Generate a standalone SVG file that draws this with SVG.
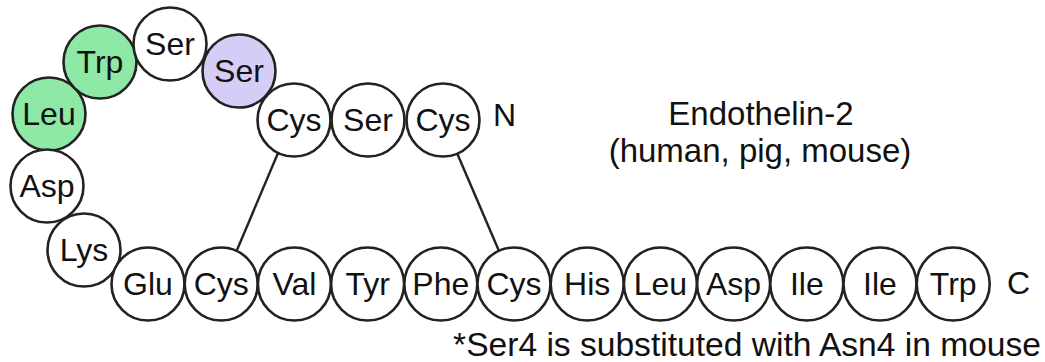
<svg xmlns="http://www.w3.org/2000/svg" width="1045" height="362" viewBox="0 0 1045 362">
<style>
.r circle{fill:#fff;stroke:#222;stroke-width:2.6}
.r.g circle{fill:#8ee8a6}
.r.p circle{fill:#d6cdf7}
.r text,.t{font-family:"Liberation Sans",Arial,sans-serif;font-size:32px;fill:#111}
.r text{text-anchor:middle}
.t.l{font-size:33px}
.c line{stroke:#222;stroke-width:2.4}
</style>
<rect width="1045" height="362" fill="#fff"/>
<g class="c" id="connectors">
<line x1="278" y1="153" x2="237" y2="250"/>
<line x1="457" y1="153" x2="499" y2="251"/>
</g>
<g id="leu1" class="r g"><circle cx="49" cy="114" r="36.5"/><text x="49" y="125">Leu</text></g>
<g id="trp1" class="r g"><circle cx="100" cy="62" r="36.5"/><text x="100" y="73">Trp</text></g>
<g id="ser1" class="r"><circle cx="170" cy="44" r="36.5"/><text x="170" y="55">Ser</text></g>
<g id="ser2" class="r p"><circle cx="239" cy="71" r="36.5"/><text x="239" y="82">Ser</text></g>
<g id="cys1" class="r"><circle cx="294" cy="120" r="36.5"/><text x="294" y="131">Cys</text></g>
<g id="ser3" class="r"><circle cx="368" cy="120" r="36.5"/><text x="368" y="131">Ser</text></g>
<g id="cys2" class="r"><circle cx="443" cy="120" r="36.5"/><text x="443" y="131">Cys</text></g>
<g id="asp1" class="r"><circle cx="47" cy="186" r="36.5"/><text x="47" y="197">Asp</text></g>
<g id="lys" class="r"><circle cx="84" cy="250" r="36.5"/><text x="84" y="261">Lys</text></g>
<g id="glu" class="r"><circle cx="148" cy="284" r="36.5"/><text x="148" y="295">Glu</text></g>
<g id="cys3" class="r"><circle cx="221.2" cy="284" r="36.5"/><text x="221.2" y="295">Cys</text></g>
<g id="val" class="r"><circle cx="294.4" cy="284" r="36.5"/><text x="294.4" y="295">Val</text></g>
<g id="tyr" class="r"><circle cx="367.6" cy="284" r="36.5"/><text x="367.6" y="295">Tyr</text></g>
<g id="phe" class="r"><circle cx="440.8" cy="284" r="36.5"/><text x="440.8" y="295">Phe</text></g>
<g id="cys4" class="r"><circle cx="514" cy="284" r="36.5"/><text x="514" y="295">Cys</text></g>
<g id="his" class="r"><circle cx="587.2" cy="284" r="36.5"/><text x="587.2" y="295">His</text></g>
<g id="leu2" class="r"><circle cx="660.4" cy="284" r="36.5"/><text x="660.4" y="295">Leu</text></g>
<g id="asp2" class="r"><circle cx="733.6" cy="284" r="36.5"/><text x="733.6" y="295">Asp</text></g>
<g id="ile1" class="r"><circle cx="806.8" cy="284" r="36.5"/><text x="806.8" y="295">Ile</text></g>
<g id="ile2" class="r"><circle cx="880" cy="284" r="36.5"/><text x="880" y="295">Ile</text></g>
<g id="trp2" class="r"><circle cx="953.2" cy="284" r="36.5"/><text x="953.2" y="295">Trp</text></g>
<text class="t" x="493" y="126">N</text>
<text class="t" x="1007" y="294">C</text>
<text class="t l" x="761" y="125" text-anchor="middle">Endothelin-2</text>
<text class="t l" x="760" y="162" text-anchor="middle">(human, pig, mouse)</text>
<text class="t" x="1041" y="356" text-anchor="end" style="font-size:33.6px">*Ser4 is substituted with Asn4 in mouse</text>
</svg>
